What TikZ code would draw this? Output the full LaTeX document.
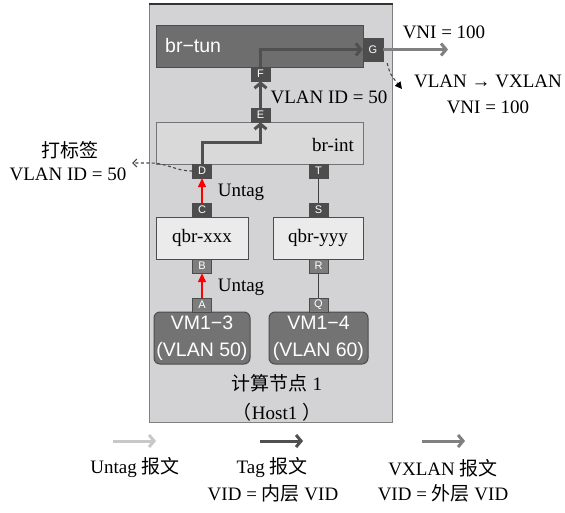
\documentclass[tikz,border=0pt]{standalone}
\usepackage{fontspec}
\setmainfont{Liberation Serif}
\setsansfont{Liberation Sans}
\newfontfamily\cjk{Noto Sans CJK SC}
\usetikzlibrary{arrows.meta,calc}
\definecolor{hostbg}{HTML}{D3D3D5}
\definecolor{tunfill}{HTML}{6E6E6E}
\definecolor{intfill}{HTML}{D9D9D9}
\definecolor{qbrfill}{HTML}{EBEBEB}
\definecolor{vmfill}{HTML}{737373}
\definecolor{portdark}{HTML}{4D4D4D}
\definecolor{portmid}{HTML}{7D7D7D}
\definecolor{tagline}{HTML}{505050}
\definecolor{vxline}{HTML}{808080}
\definecolor{untagline}{HTML}{C8C8C8}
\begin{document}
\begin{tikzpicture}[x=1pt,y=-1pt,
  lbl/.style={inner sep=0pt,font=\fontsize{19}{22}\selectfont},
  portd/.style={draw=black!70,fill=portdark,minimum width=19pt,minimum height=14pt,inner sep=0pt,text=white,font=\sffamily\fontsize{11}{11}\selectfont},
  portm/.style={portd,fill=portmid},
  vmbox/.style={draw=black!70,fill=vmfill,rounded corners=6pt,line width=1pt,minimum width=#1,minimum height=52pt,inner sep=0pt,text=white,align=center,font=\sffamily\fontsize{19.5}{27}\selectfont},
  tagarrow/.style={draw=tagline,line width=3pt,-{Straight Barb[length=5pt,width=12pt]}},
  vxarrow/.style={draw=vxline,line width=3pt,-{Straight Barb[length=5pt,width=12pt]}},
  untagarrow/.style={draw=untagline,line width=3pt,-{Straight Barb[length=5pt,width=12pt]}},
  redarrow/.style={draw=red,line width=1.4pt,-{Triangle[length=9pt,width=8pt]}},
  note/.style={draw=black!72,dash pattern=on 3pt off 2.5pt,line width=1.1pt}
]
\useasboundingbox (0,0) rectangle (565,513);
% host
\node[draw=black!50,fill=hostbg,line width=1pt,minimum width=243pt,minimum height=418pt,anchor=north west,inner sep=0pt] (host) at (149,4) {};
\draw[black!80,line width=1.6pt] (host.north west) -- (host.north east);
% bridges
\node[draw=black!70,fill=tunfill,line width=0.8pt,minimum width=207pt,minimum height=42pt,inner sep=0pt] (brtun) at (259.5,46) {};
\node[lbl,anchor=west,text=white,font=\sffamily\fontsize{19.5}{22}\selectfont] (tunlbl) at (165,46) {br−tun};
\node[draw=black!55,fill=intfill,line width=0.8pt,minimum width=207pt,minimum height=42pt,inner sep=0pt] (brint) at (259.5,143) {};
\node[lbl] (intlbl) at (333,145) {br-int};
\node[draw=black!70,fill=qbrfill,line width=0.8pt,minimum width=92pt,minimum height=42pt,inner sep=0pt] (qbrx) at (202,238) {};
\node[lbl] (qbrxlbl) at (202,238) {qbr-xxx};
\node[draw=black!70,fill=qbrfill,line width=0.8pt,minimum width=90pt,minimum height=42pt,inner sep=0pt] (qbry) at (318,238) {};
\node[lbl] (qbrylbl) at (318,238) {qbr-yyy};
\node[vmbox=96pt] (vm3) at (202,338) {VM1−3\\(VLAN 50)};
\node[vmbox=99pt] (vm4) at (318.5,338) {VM1−4\\(VLAN 60)};
% ports
\node[portd,minimum width=20pt,minimum height=23pt] (G) at (373,49.5) {G};
\node[portd] (F) at (260.5,74) {F};
\node[portd] (E) at (260.5,115) {E};
\node[portd] (D) at (202,171) {D};
\node[portd] (T) at (318.5,171) {T};
\node[portd] (C) at (202,210) {C};
\node[portd] (S) at (318.5,210) {S};
\node[portm] (B) at (202,266) {B};
\node[portm] (R) at (318.5,266) {R};
\node[portm] (A) at (202,305) {A};
\node[portm] (Q) at (318.5,305) {Q};
% thin links
\draw[black!75,line width=0.9pt] (T) -- (S);
\draw[black!75,line width=0.9pt] (R) -- (Q);
% red untag arrows
\draw[redarrow] (A.north) -- (B.south);
\draw[redarrow] (C.north) -- (D.south);
\node[lbl] (u1) at (241,192) {Untag};
\node[lbl] (u2) at (241,287) {Untag};
% tagged path
\draw[tagarrow] (D.north) -- ++(0,-21) -| (E.south);
\draw[tagarrow] (E.north) -- (F.south);
\draw[tagarrow] (F.north) |- (G.west);
\node[lbl] (vid50) at (329,97) {VLAN ID = 50};
% vxlan out
\coordinate (out) at (448,49.5);
\draw[vxarrow] (G.east) -- (out);
\node[lbl] (vni1) at (444,32) {VNI = 100};
% annotation at G
\coordinate (gs) at ($(G.south east)+(4,2)$);
\coordinate (gt) at (402,89);
\draw[note,-{Triangle[length=7pt,width=7pt,fill=black,color=black]}] (gs) .. controls (390,74) .. (gt);
\node[lbl] (v2v) at (488,81) {VLAN → VXLAN};
\node[lbl] (vni2) at (488,107) {VNI = 100};
% annotation at D
\coordinate (dt) at (132,163);
\draw[note,-{Straight Barb[length=4pt,width=8pt]}] (D.west) .. controls (175,171) and (168,163) .. (150,163) -- (dt);
\node[lbl,font=\cjk\fontsize{19}{22}\selectfont] (dbq) at (70,150) {打标签};
\node[lbl] (vid50b) at (68,174) {VLAN ID = 50};
% host label
\node[lbl] (hostlbl) at (277,383) {{\cjk 计算节点} 1};
\node[lbl] (hostlbl2) at (277,412) {{\cjk （}Host1 {\cjk ）}};
% legend
\coordinate (l1a) at (113,441); \coordinate (l1b) at (156,441);
\coordinate (l2a) at (260,441); \coordinate (l2b) at (303,441);
\coordinate (l3a) at (422,441); \coordinate (l3b) at (465,441);
\draw[untagarrow] (l1a) -- (l1b);
\draw[tagarrow] (l2a) -- (l2b);
\draw[vxarrow] (l3a) -- (l3b);
\node[lbl] (lg1) at (135,468) {Untag {\cjk 报文}};
\node[lbl] (lg2) at (272,468) {Tag {\cjk 报文}};
\node[lbl] (lg2b) at (273,493) {VID = {\cjk 内层} VID};
\node[lbl] (lg3) at (443,468) {VXLAN {\cjk 报文}};
\node[lbl] (lg3b) at (443,493) {VID = {\cjk 外层} VID};
\end{tikzpicture}
\end{document}
